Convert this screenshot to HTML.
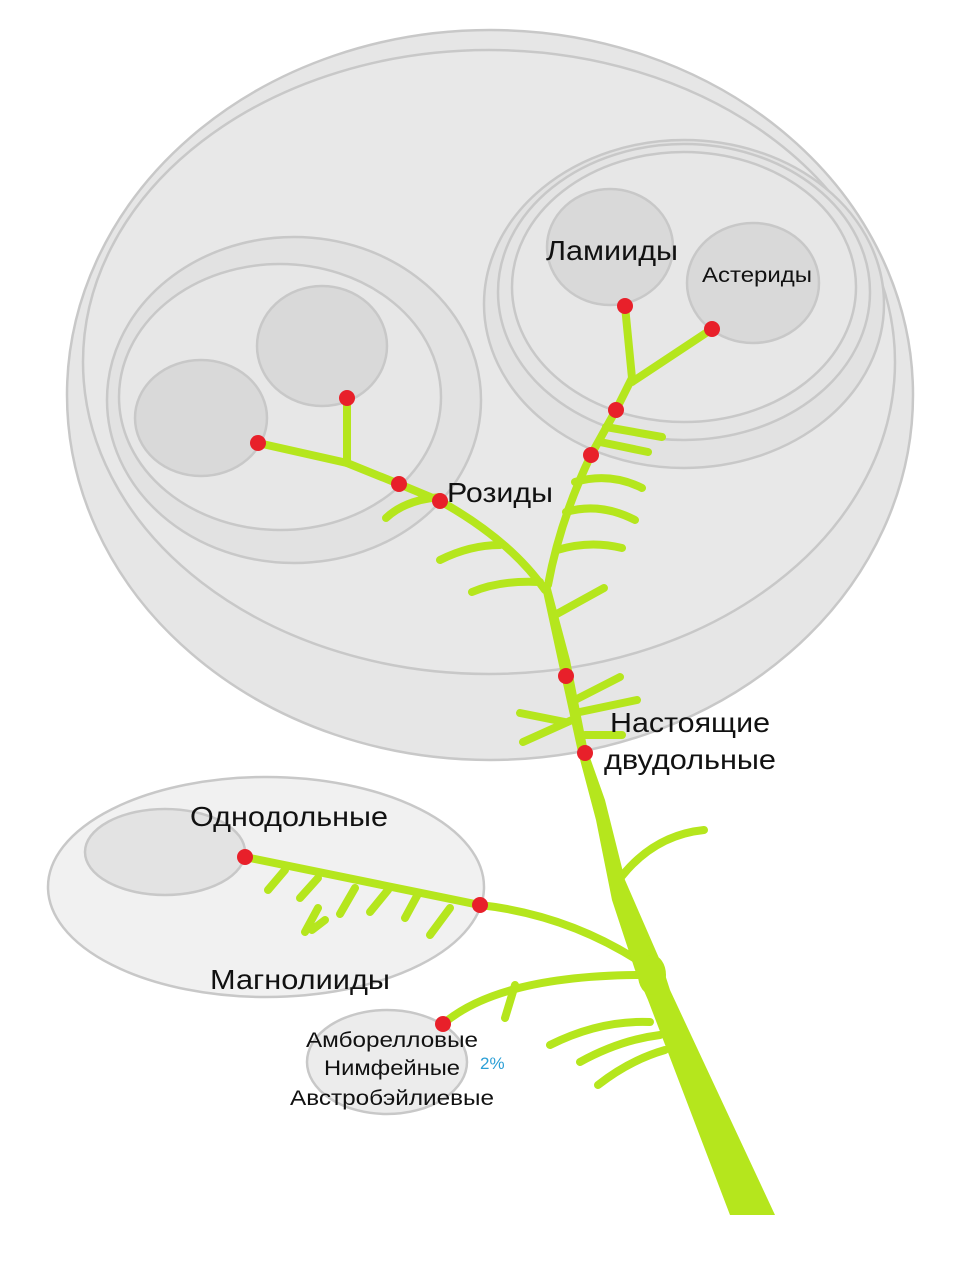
<!DOCTYPE html>
<html><head><meta charset="utf-8"><style>
html,body{margin:0;padding:0;background:#fff;}
svg{display:block;}
text{font-family:"Liberation Sans",sans-serif;fill:#111;}
</style></head><body>
<svg width="963" height="1265" viewBox="0 0 963 1265" xmlns="http://www.w3.org/2000/svg">
<rect width="963" height="1265" fill="#fff"/>
<g stroke="#c8c8c8" stroke-width="2.5">
<ellipse cx="490" cy="395" rx="423" ry="365" fill="#e6e6e6"/>
<ellipse cx="489" cy="362" rx="406" ry="312" fill="#e8e8e8"/>
<ellipse cx="294" cy="400" rx="187" ry="163" fill="#e2e2e2"/>
<ellipse cx="280" cy="397" rx="161" ry="133" fill="#e7e7e7"/>
<ellipse cx="201" cy="418" rx="66" ry="58" fill="#d9d9d9"/>
<ellipse cx="322" cy="346" rx="65" ry="60" fill="#d9d9d9"/>
<ellipse cx="684" cy="304" rx="200" ry="164" fill="#e2e2e2"/>
<ellipse cx="684" cy="292" rx="186" ry="148" fill="#e4e4e4"/>
<ellipse cx="684" cy="287" rx="172" ry="135" fill="#e7e7e7"/>
<ellipse cx="610" cy="247" rx="63" ry="58" fill="#d9d9d9"/>
<ellipse cx="753" cy="283" rx="66" ry="60" fill="#d9d9d9"/>
<ellipse cx="266" cy="887" rx="218" ry="110" fill="#f1f1f1"/>
<ellipse cx="165" cy="852" rx="80" ry="43" fill="#e3e3e3"/>
<ellipse cx="387" cy="1062" rx="80" ry="52" fill="#ececec"/>
</g>
<g fill="none" stroke="#b5e61d" stroke-width="8" stroke-linecap="round">
<path d="M625 306 L632 378 L616 410 L591 455 Q560 520 548 585"/>
<path d="M712 329 L632 382"/>
<path d="M606 427 L662 437 M600 442 L648 452"/>
<path d="M575 482 Q610 472 642 488 M566 512 Q600 502 635 520 M557 550 Q590 540 622 548"/>
<path d="M258 443 L347 463 L399 484 L440 501 Q510 540 545 590"/>
<path d="M347 398 L347 463"/>
<path d="M386 518 Q405 500 440 497"/>
<path d="M440 560 Q470 545 500 545 M472 592 Q500 580 540 582"/>
<path d="M555 615 L604 588"/>
<path d="M575 700 L620 677 M575 713 L637 700 M520 713 L565 722 M523 742 L572 720 M585 735 L622 735"/>
<path d="M245 857 L480 905 Q570 915 645 965"/>
<path d="M268 890 L285 870 M300 898 L318 878 M340 914 L355 888 M305 932 L318 908 M312 930 L325 920 M370 912 L388 890 M405 918 L418 894 M430 935 L450 908"/>
<path d="M622 876 Q655 835 704 830"/>
<path d="M443 1024 Q500 975 645 975"/>
<path d="M505 1018 L515 985"/>
<path d="M550 1045 Q600 1020 650 1022 M580 1062 Q620 1040 660 1035 M598 1085 Q630 1060 665 1050"/>
</g>
<path d="M730 1215 L775 1215 L670 990 L662 965 L625 880 L605 800 L588 752 L570 660 L550 585 L542 587 L560 670 L578 752 L596 820 L612 900 L635 970 L648 1000 Z" fill="#b5e61d"/>
<ellipse cx="652" cy="975" rx="14" ry="20" fill="#b5e61d"/>
<g fill="#e8202a">
<circle cx="625" cy="306" r="8"/><circle cx="712" cy="329" r="8"/>
<circle cx="616" cy="410" r="8"/><circle cx="591" cy="455" r="8"/>
<circle cx="347" cy="398" r="8"/><circle cx="258" cy="443" r="8"/>
<circle cx="399" cy="484" r="8"/><circle cx="440" cy="501" r="8"/>
<circle cx="566" cy="676" r="8"/><circle cx="585" cy="753" r="8"/>
<circle cx="245" cy="857" r="8"/><circle cx="480" cy="905" r="8"/>
<circle cx="443" cy="1024" r="8"/>
</g>
<g lengthAdjust="spacingAndGlyphs">
<text x="546" y="260" font-size="28" textLength="132" lengthAdjust="spacingAndGlyphs">Ламииды</text>
<text x="702" y="282" font-size="21" textLength="110" lengthAdjust="spacingAndGlyphs">Астериды</text>
<text x="447" y="502" font-size="28" textLength="106" lengthAdjust="spacingAndGlyphs">Розиды</text>
<text x="610" y="732" font-size="28" textLength="160" lengthAdjust="spacingAndGlyphs">Настоящие</text>
<text x="604" y="769" font-size="28" textLength="172" lengthAdjust="spacingAndGlyphs">двудольные</text>
<text x="190" y="826" font-size="28" textLength="198" lengthAdjust="spacingAndGlyphs">Однодольные</text>
<text x="210" y="989" font-size="28" textLength="180" lengthAdjust="spacingAndGlyphs">Магнолииды</text>
<text x="306" y="1047" font-size="21" textLength="172" lengthAdjust="spacingAndGlyphs">Амборелловые</text>
<text x="324" y="1075" font-size="21" textLength="136" lengthAdjust="spacingAndGlyphs">Нимфейные</text>
<text x="290" y="1105" font-size="21" textLength="204" lengthAdjust="spacingAndGlyphs">Австробэйлиевые</text>
</g>
<text x="480" y="1069" font-size="17" style="fill:#2b9fd6">2%</text>
</svg>
</body></html>
